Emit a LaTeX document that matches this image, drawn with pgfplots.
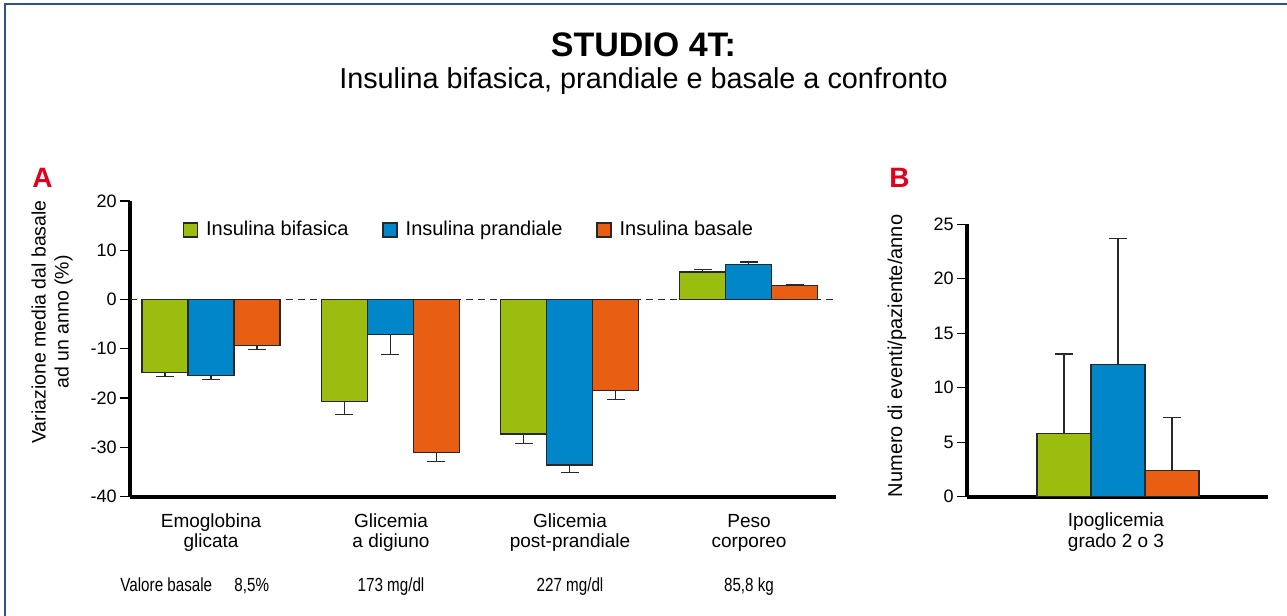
\documentclass[border=0pt]{standalone}
\usepackage{pgfplots}
\pgfplotsset{compat=1.18}
\usepackage{fontspec}
\setmainfont{Liberation Sans}
\newfontfamily\condfont[FakeStretch=0.8]{Liberation Sans}
\definecolor{cgreen}{RGB}{155,189,16}
\definecolor{cblue}{RGB}{0,134,201}
\definecolor{corange}{RGB}{232,94,18}
\definecolor{cred}{RGB}{226,0,26}
\definecolor{cframe}{RGB}{40,85,130}
\definecolor{cline}{RGB}{40,40,40}

\pgfplotsset{
  myaxis/.style={
    scale only axis,
    axis x line*=bottom, axis y line*=left,
    axis line style={line width=2pt,-},
    xtick=\empty,
    tick align=outside,
    major tick length=5pt,
    y tick style={line width=0.6pt, black},
    y tick label style={font=\fontsize{9}{10}\selectfont, inner sep=1.5pt},
    clip=false,
    error bars/error bar style={line width=0.6pt, cline},
    error bars/error mark options={rotate=90, line width=0.6pt, cline, mark size=4.5pt},
  },
  gbar/.style={ybar, bar shift=0pt, fill=cgreen, draw=cline, line width=0.6pt},
  bbar/.style={ybar, bar shift=0pt, fill=cblue, draw=cline, line width=0.6pt},
  obar/.style={ybar, bar shift=0pt, fill=corange, draw=cline, line width=0.6pt},
}

\begin{document}
\begin{tikzpicture}
\useasboundingbox (0,0) rectangle (643.5pt,-308pt);
\draw[cframe, line width=0.9pt] (2.4pt,-308pt) -- (2.4pt,-1.95pt) -- (643.5pt,-1.95pt);

% titles
\node[anchor=base, inner sep=0pt, font=\fontsize{17}{20}\selectfont\bfseries] at (321.75pt,-28pt) {STUDIO 4T:};
\node[anchor=base, inner sep=0pt, font=\fontsize{14.4}{17}\selectfont] at (321.75pt,-44pt) {Insulina bifasica, prandiale e basale a confronto};

% panel letters
\node[anchor=south west, inner sep=0pt, text=cred, font=\fontsize{14}{16}\selectfont\bfseries] at (16pt,-94pt) {A};
\node[anchor=south west, inner sep=0pt, text=cred, font=\fontsize{14}{16}\selectfont\bfseries] at (444.5pt,-94pt) {B};

% y labels
\node[rotate=90, align=center, inner sep=0pt, font=\fontsize{9.75}{11.5}\selectfont] at (26pt,-161pt) {Variazione media dal basale\\ad un anno (\%)};
\node[rotate=90, inner sep=0pt, font=\fontsize{10}{12}\selectfont] at (448.5pt,-178pt) {Numero di eventi/paziente/anno};

% ---------------- Panel A ----------------
% groups at x = 0,1,2,3; bars at x-0.2566, x, x+0.2566 (bar width 23pt)
\begin{axis}[myaxis,
  at={(65pt,-248.25pt)}, anchor=south west,
  width=353pt, height=147.75pt,
  xmin=-0.452, xmax=3.486, ymin=-40, ymax=20,
  ytick={-40,-30,-20,-10,0,10,20},
  yticklabels={-40,-30,-20,-10,0,10,20},
  legend style={at={(0.0745,0.902)}, anchor=west, draw=none, fill=none, inner sep=0pt,
    font=\fontsize{10}{12}\selectfont,
    /tikz/every odd column/.append style={column sep=2pt},
    /tikz/every even column/.append style={column sep=15pt}},
  legend columns=3,
  legend image code/.code={\draw[#1, line width=0.6pt] (0pt,-3.5pt) rectangle (7pt,3.5pt);},
]
\draw[cline, line width=0.6pt, dash pattern=on 3.5pt off 2.5pt] (axis cs:-0.452,0) -- (axis cs:3.486,0);

% Insulina bifasica
\addplot[gbar, bar width=23pt,
  error bars/.cd, y dir=minus, y explicit]
  coordinates {(-0.2566,-14.8) +- (0,0.8) (0.7434,-20.7) +- (0,2.6) (1.7434,-27.3) +- (0,1.9)};
\addlegendentry{Insulina bifasica}
\addplot[gbar, bar width=23pt, forget plot,
  error bars/.cd, y dir=plus, y explicit]
  coordinates {(2.7434,5.6) +- (0,0.5)};

% Insulina prandiale
\addplot[bbar, bar width=23pt,
  error bars/.cd, y dir=minus, y explicit]
  coordinates {(0,-15.5) +- (0,0.8) (1,-7.1) +- (0,4.1) (2,-33.6) +- (0,1.5)};
\addlegendentry{Insulina prandiale}
\addplot[bbar, bar width=23pt, forget plot,
  error bars/.cd, y dir=plus, y explicit]
  coordinates {(3,7.1) +- (0,0.5)};

% Insulina basale
\addplot[obar, bar width=23pt,
  error bars/.cd, y dir=minus, y explicit]
  coordinates {(0.2566,-9.3) +- (0,0.8) (1.2566,-31.0) +- (0,1.9) (2.2566,-18.5) +- (0,1.8)};
\addlegendentry{Insulina basale}
\addplot[obar, bar width=23pt, forget plot,
  error bars/.cd, y dir=plus, y explicit]
  coordinates {(3.2566,2.9) +- (0,0.2)};
\end{axis}

% ---------------- Panel B ----------------
\begin{axis}[myaxis,
  at={(483.5pt,-248.35pt)}, anchor=south west,
  width=150.5pt, height=136.2pt,
  xmin=-151, xmax=150, ymin=0, ymax=25,
  ytick={0,5,10,15,20,25},
  yticklabels={0,5,10,15,20,25},
]
\addplot[gbar, bar width=27pt,
  error bars/.cd, y dir=plus, y explicit]
  coordinates {(-54,5.8) +- (0,7.3)};
\addplot[bbar, bar width=27pt,
  error bars/.cd, y dir=plus, y explicit]
  coordinates {(0,12.1) +- (0,11.6)};
\addplot[obar, bar width=27pt,
  error bars/.cd, y dir=plus, y explicit]
  coordinates {(54,2.4) +- (0,4.9)};
\end{axis}

% category labels
\begin{scope}[every node/.style={anchor=base, inner sep=0pt, font=\fontsize{9.5}{11}\selectfont}]
\node at (105.5pt,-263.65pt) {Emoglobina};
\node at (105.5pt,-273.85pt) {glicata};
\node at (195.5pt,-263.65pt) {Glicemia};
\node at (195.5pt,-273.85pt) {a digiuno};
\node at (285pt,-263.65pt) {Glicemia};
\node at (285pt,-273.85pt) {post-prandiale};
\node at (374.5pt,-263.65pt) {Peso};
\node at (374.5pt,-273.85pt) {corporeo};
\node at (558pt,-263.4pt) {Ipoglicemia};
\node at (558pt,-273.65pt) {grado 2 o 3};
\end{scope}
\begin{scope}[every node/.style={anchor=base, inner sep=0pt, font=\fontsize{9.5}{11}\condfont}]
\node[anchor=base west] at (60pt,-295.5pt) {Valore basale};
\node[anchor=base west] at (117pt,-295.5pt) {8,5\%};
\node at (195.5pt,-295.5pt) {173 mg/dl};
\node at (285pt,-295.5pt) {227 mg/dl};
\node at (374.5pt,-295.5pt) {85,8 kg};
\end{scope}
\end{tikzpicture}
\end{document}
